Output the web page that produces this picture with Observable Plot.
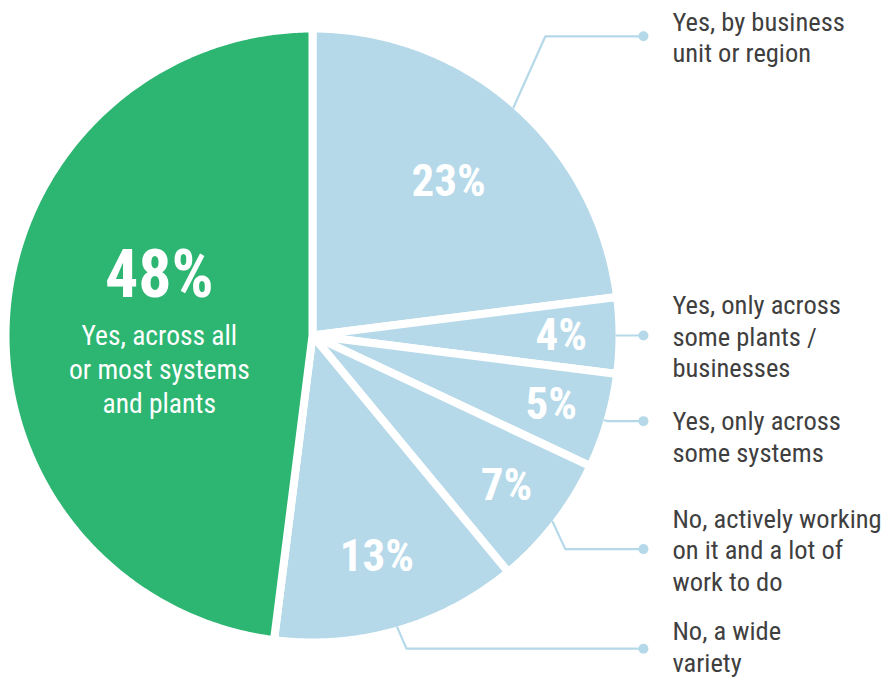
<!DOCTYPE html>
<html><head><meta charset="utf-8">
<script src="https://cdn.jsdelivr.net/npm/d3@7"></script>
<script src="https://cdn.jsdelivr.net/npm/@observablehq/plot@0.6"></script>
<style>
html,body{margin:0;padding:0;background:#fff;}
#chart{width:884px;height:679px;}
</style></head><body><div id="chart"></div>
<script>
// ---- data ----
const categories = [
  "Yes, by business unit or region",
  "Yes, only across some plants / businesses",
  "Yes, only across some systems",
  "No, actively working on it and a lot of work to do",
  "No, a wide variety",
  "Yes, across all or most systems and plants"
];
const values = [23, 4, 5, 7, 13, 48];
const valueLabels = ["23%", "4%", "5%", "7%", "13%", "48%"];
const outsideLabels = [
  "Yes, by business\nunit or region",
  "Yes, only across\nsome plants /\nbusinesses",
  "Yes, only across\nsome systems",
  "No, actively working\non it and a lot of\nwork to do",
  "No, a wide\nvariety"
];
const insideLabel = "Yes, across all\nor most systems\nand plants";

// ---- style / layout ----
const BLUE = "#b5d9e9", GREEN = "#2db572", TEXT = "#3f3f3f";
const sliceColors = [BLUE, BLUE, BLUE, BLUE, BLUE, GREEN];
const valueLabelRadius = [0.67, 0.81, 0.81, 0.80, 0.75, 0.5];
const leaderElbowRadius = [1.235, 1, 1, 1.078, 1.065];
const leaderElbowShift = [-3.5, 0, 0, 2.4, -0.5];
const outsideLabelShift = [0, 0, 15, 0, -3];
const FONT = "'Liberation Sans Narrow','Roboto Condensed','DejaVu Sans Condensed','Arial Narrow',sans-serif";
const PX = 307; // pixels per unit radius

const total = d3.sum(values);
const rad = a => a * Math.PI / 180;
let cum = 0;
const slices = values.map((v, i) => {
  const a0 = cum / total * 360, a1 = (cum + v) / total * 360;
  cum += v;
  return {i, name: categories[i], value: v, a0, a1, mid: (a0 + a1) / 2, color: sliceColors[i]};
});

const piePoints = [];
for (const s of slices) {
  piePoints.push({slice: s.i, x: 0, y: 0, color: s.color});
  const n = Math.max(2, Math.ceil((s.a1 - s.a0) / 0.5));
  for (let k = 0; k <= n; k++) {
    const a = rad(s.a0 + (s.a1 - s.a0) * k / n);
    piePoints.push({slice: s.i, x: Math.sin(a), y: Math.cos(a), color: s.color});
  }
  piePoints.push({slice: s.i, x: 0, y: 0, color: s.color});
}

const DOTX = 1.078;
const leaderPoints = [], dots = [];
slices.slice(0, 5).forEach((s, i) => {
  const m = rad(s.mid);
  const e = rad(s.mid + leaderElbowShift[i]);
  const er = leaderElbowRadius[i];
  const ey = er * Math.cos(e);
  leaderPoints.push({k: i, x: 0.99 * Math.sin(m), y: 0.99 * Math.cos(m)});
  leaderPoints.push({k: i, x: er * Math.sin(e), y: ey});
  leaderPoints.push({k: i, x: DOTX, y: ey});
  dots.push({k: i, x: DOTX, y: ey, text: outsideLabels[i], shift: outsideLabelShift[i]});
});

const valuePos = slices.map((s, i) => ({
  x: valueLabelRadius[i] * Math.sin(rad(s.mid)),
  y: valueLabelRadius[i] * Math.cos(rad(s.mid)),
  text: valueLabels[i], big: i === 5
}));

const chart = Plot.plot({
  width: 884, height: 679,
  margin: 0,
  x: {domain: [-1, 1], range: [312 - PX, 312 + PX], axis: null},
  y: {domain: [-1, 1], range: [335 + PX, 335 - PX], axis: null},
  color: {type: "identity"},
  style: {fontFamily: FONT, background: "#fff"},
  marks: [
    Plot.line(piePoints, {x: "x", y: "y", z: "slice", fill: "color", stroke: "white", strokeWidth: 8, strokeLinejoin: "round", curve: "linear"}),
    Plot.line(leaderPoints, {x: "x", y: "y", z: "k", stroke: BLUE, strokeWidth: 2.2, curve: "linear"}),
    Plot.dot(dots, {x: "x", y: "y", r: 5, fill: BLUE}),
    Plot.text(dots, {x: "x", y: d => d.y - d.shift / PX, text: "text", dx: 29, textAnchor: "start", lineAnchor: "middle", fontSize: 26.5, lineHeight: 1.19, fill: TEXT, fontFamily: FONT}),
    Plot.text(valuePos.filter(d => !d.big), {x: "x", y: "y", text: "text", fontSize: 45, fontWeight: "bold", fill: "white", lineAnchor: "middle", fontFamily: FONT}),
    Plot.text(valuePos.filter(d => d.big), {x: "x", y: "y", text: "text", dy: -50, fontSize: 66, fontWeight: "bold", fill: "white", lineAnchor: "middle", fontFamily: FONT}),
    Plot.text(valuePos.filter(d => d.big), {x: "x", y: "y", text: () => insideLabel, dy: 42, fontSize: 27.5, lineHeight: 1.23, fill: "white", lineAnchor: "middle", fontFamily: FONT})
  ]
});
document.getElementById("chart").appendChild(chart);
</script>
</body></html>
